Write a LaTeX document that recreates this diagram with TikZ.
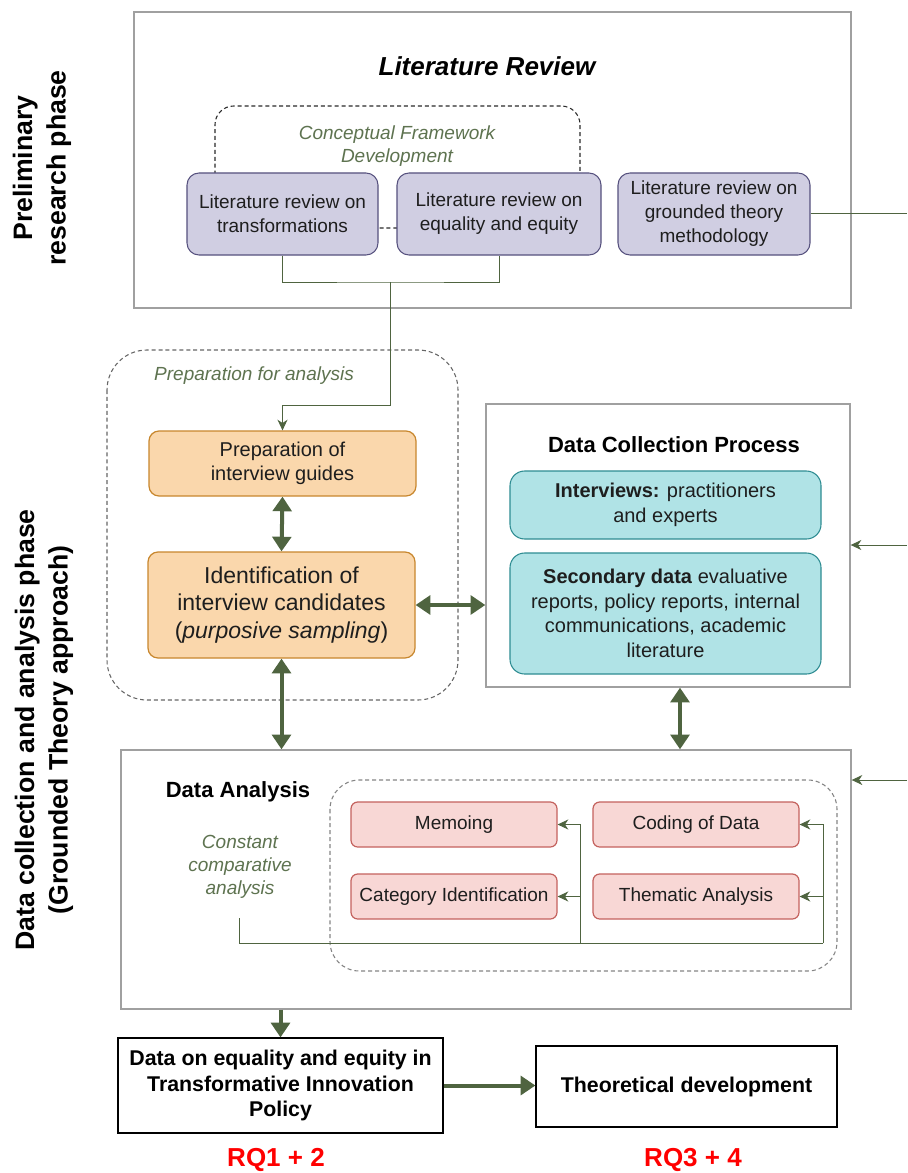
\documentclass[tikz,border=0pt]{standalone}
\usepackage{fontspec}
\setmainfont{Liberation Sans}
\usetikzlibrary{arrows.meta,fit}

\definecolor{linkgreen}{HTML}{4F6440}
\definecolor{notegreen}{HTML}{5E7350}
\definecolor{framegray}{HTML}{A0A0A0}
\definecolor{groupgray}{HTML}{666666}
\definecolor{conceptdark}{HTML}{2A2A2A}
\definecolor{litfill}{HTML}{D0CEE2}
\definecolor{litdraw}{HTML}{56517E}
\definecolor{prepfill}{HTML}{FAD7AC}
\definecolor{prepdraw}{HTML}{C8872E}
\definecolor{collfill}{HTML}{B0E3E6}
\definecolor{colldraw}{HTML}{2E8C92}
\definecolor{anafill}{HTML}{F8D7D5}
\definecolor{anadraw}{HTML}{C4625E}
\definecolor{rqred}{HTML}{FF0000}
\definecolor{txt}{HTML}{1E1E1E}

\newcommand\fpx[2]{\fontsize{#1}{#2}\selectfont}

\tikzset{
  region/.style={draw=framegray, line width=1pt, inner sep=0pt},
  grouping/.style={draw=groupgray, line width=0.8pt, dash pattern=on 3pt off 2.2pt},
  litbox/.style={draw=litdraw, fill=litfill, line width=0.8pt, rounded corners=9pt,
    inner sep=0pt, align=center, text=txt, font=\fpx{14.25pt}{18pt}},
  prepbox/.style={draw=prepdraw, fill=prepfill, line width=0.9pt, rounded corners=7.5pt,
    inner sep=0pt, align=center, text=txt},
  collbox/.style={draw=colldraw, fill=collfill, line width=0.8pt, rounded corners=11pt,
    inner sep=0pt, align=center, text=txt, font=\fpx{15pt}{18.4pt}},
  anabox/.style={draw=anadraw, fill=anafill, line width=0.9pt, rounded corners=5pt,
    inner sep=0pt, align=center, text=txt, font=\fpx{14.25pt}{17.5pt}},
  resultbox/.style={draw=black, line width=0.9pt, inner sep=0pt, align=center,
    text=black, font=\bfseries\fpx{16pt}{19pt}},
  note/.style={text=notegreen, align=center, font=\itshape\fpx{14.25pt}{17.25pt}},
  link/.style={draw=linkgreen, line width=0.75pt},
  linkto/.style={link, -{Stealth[length=8pt,width=7.5pt,inset=2.5pt]}},
  bothway/.style={draw=linkgreen, line width=3pt,
    {Triangle[length=11pt,width=14pt]}-{Triangle[length=11pt,width=14pt]}},
  oneway/.style={draw=linkgreen, line width=3pt, -{Triangle[length=11pt,width=14pt]}},
  phase/.style={rotate=90, align=center, text=black, font=\bfseries\fpx{20pt}{25pt}},
}

\begin{document}
\begin{tikzpicture}[x=0.75pt,y=-0.75pt]
\useasboundingbox (0,0) rectangle (907,1173);
\fill[white] (0,0) rectangle (907,1173);

% ---------- phase labels ----------
\node[phase] (phA) at (42,168) {Preliminary\\research phase};
\node[phase] (phB) at (44,730) {Data collection and analysis phase\\(Grounded Theory approach)};

% ---------- literature review ----------
\node[region, fit={(134,12) (851,308)}] (litframe) {};
\node[font=\bfseries\itshape\fpx{19.5pt}{23pt}, text=black] (littitle) at (487,66) {Literature Review};
\draw[grouping, draw=conceptdark, rounded corners=14pt] (215,228) -- (215,106) -- (580,106) -- (580,228) -- cycle;
\node[note] (concept) at (397,146) {Conceptual Framework\\Development};
\node[litbox, fit={(187,173) (378,255)}] (ltrans) {};
\node[litbox, fit={(397,173) (601,255)}] (lequal) {};
\node[litbox, fit={(618,173) (810,255)}] (lgt) {};
\node[align=center, text=txt, font=\fpx{14.25pt}{18pt}] at (ltrans) {Literature review on\\transformations};
\node[align=center, text=txt, font=\fpx{14.25pt}{18pt}] at (lequal) {Literature review on\\equality and equity};
\node[align=center, text=txt, font=\fpx{14.25pt}{18pt}] at (lgt) {Literature review on\\grounded theory\\methodology};

% ---------- preparation for analysis ----------
\draw[grouping, rounded corners=30pt] (107,350) rectangle (458,700);
\node[note] (prepnote) at (254,376) {Preparation for analysis};
\node[prepbox, fit={(149,431) (416,496)}] (guides) {};
\node[align=center, text=txt, font=\fpx{15pt}{18pt}] at (guides) {Preparation of\\interview guides};
\node[prepbox, fit={(148,552) (415,658)}] (cands) {};
\node[align=center, text=txt, font=\fpx{17.25pt}{20.5pt}] at (cands) {Identification of\\interview candidates\\(\textit{purposive sampling})};

% ---------- data collection ----------
\node[region, fit={(486,404) (850,687)}] (collect) {};
\node[font=\bfseries\fpx{16.5pt}{20pt}, text=black] (colltitle) at (674,445) {Data Collection Process};
\node[collbox, fit={(510,471) (821,539)}] (intv) {};
\node[align=center, text=txt, font=\fpx{15pt}{18.4pt}] at (intv) {\textbf{Interviews:} practitioners\\and experts};
\node[collbox, fit={(510,553) (821,674)}] (second) {};
\node[align=center, text=txt, font=\fpx{15pt}{18.4pt}] at (second) {\textbf{Secondary data} evaluative\\reports, policy reports, internal\\communications, academic\\literature};

% ---------- data analysis ----------
\node[region, fit={(121,750) (851,1009)}] (analysis) {};
\node[font=\bfseries\fpx{16.5pt}{20pt}, text=black] (anatitle) at (238,792) {Data Analysis};
\node[note] (constant) at (240,867) {Constant\\comparative\\analysis};
\draw[grouping, draw=groupgray!80, rounded corners=22pt] (330,780) rectangle (837,971);
\node[anabox, fit={(351,802) (557,847)}] (memo) {};
\node[anabox, fit={(593,802) (799,847)}] (coding) {};
\node[anabox, fit={(351,874) (557,919)}] (category) {};
\node[anabox, fit={(593,874) (799,919)}] (thematic) {};
\node[text=txt, font=\fpx{14.25pt}{17.5pt}] at (memo) {Memoing};
\node[text=txt, font=\fpx{14.25pt}{17.5pt}] at (coding) {Coding of Data};
\node[text=txt, font=\fpx{14.25pt}{17.5pt}] at (category) {Category Identification};
\node[text=txt, font=\fpx{14.25pt}{17.5pt}] at (thematic) {Thematic Analysis};

% ---------- results ----------
\node[resultbox, fit={(118,1038) (443,1133)}] (outcome) {};
\node[align=center, font=\bfseries\fpx{16pt}{19pt}] at (outcome) {Data on equality and equity in\\Transformative Innovation\\Policy};
\node[resultbox, fit={(536,1046) (837,1127)}] (theory) {};
\node[font=\bfseries\fpx{16pt}{19pt}] at (theory) {Theoretical development};
\node[text=rqred, font=\bfseries\fpx{19.5pt}{23pt}] (rqA) at (276,1160) {RQ1 + 2};
\node[text=rqred, font=\bfseries\fpx{19.5pt}{23pt}] (rqB) at (693,1160) {RQ3 + 4};

% ---------- thin connectors ----------
\coordinate (join) at (390,282);
\coordinate (bend) at (390,405);
\draw[link] (ltrans.south) |- (join) -| (lequal.south);
\draw[linkto] (join) -- (bend) -| (guides.north);

\coordinate (edgeA) at (907,214);
\coordinate (edgeB) at (907,545);
\coordinate (edgeC) at (907,780);
\draw[link] (lgt.east) -- (lgt.east -| edgeA);
\draw[linkto] (edgeB) -- (edgeB -| collect.east);
\draw[linkto] (edgeC) -- (edgeC -| analysis.east);

\coordinate (loopstart) at (239,918);
\coordinate (loopright) at (823,943);
\coordinate (loopmid) at (580,943);
\draw[link] (loopstart) |- (loopright);
\draw[linkto] (loopright) |- (coding.east);
\draw[linkto] (loopright) |- (thematic.east);
\draw[linkto] (loopmid) |- (memo.east);
\draw[linkto] (loopmid) |- (category.east);

% ---------- thick connectors ----------
\draw[bothway] (guides.south) -- (cands.north);
\draw[bothway] (cands.east) -- (cands.east -| collect.west);
\draw[bothway] (cands.south) -- (cands.south |- analysis.north);
\draw[bothway] ([xshift=9pt]collect.south) -- ([xshift=9pt]collect.south |- analysis.north);
\draw[oneway] (outcome.north |- analysis.south) -- (outcome.north);
\draw[oneway] (outcome.east) -- (outcome.east -| theory.west);
\end{tikzpicture}
\end{document}
